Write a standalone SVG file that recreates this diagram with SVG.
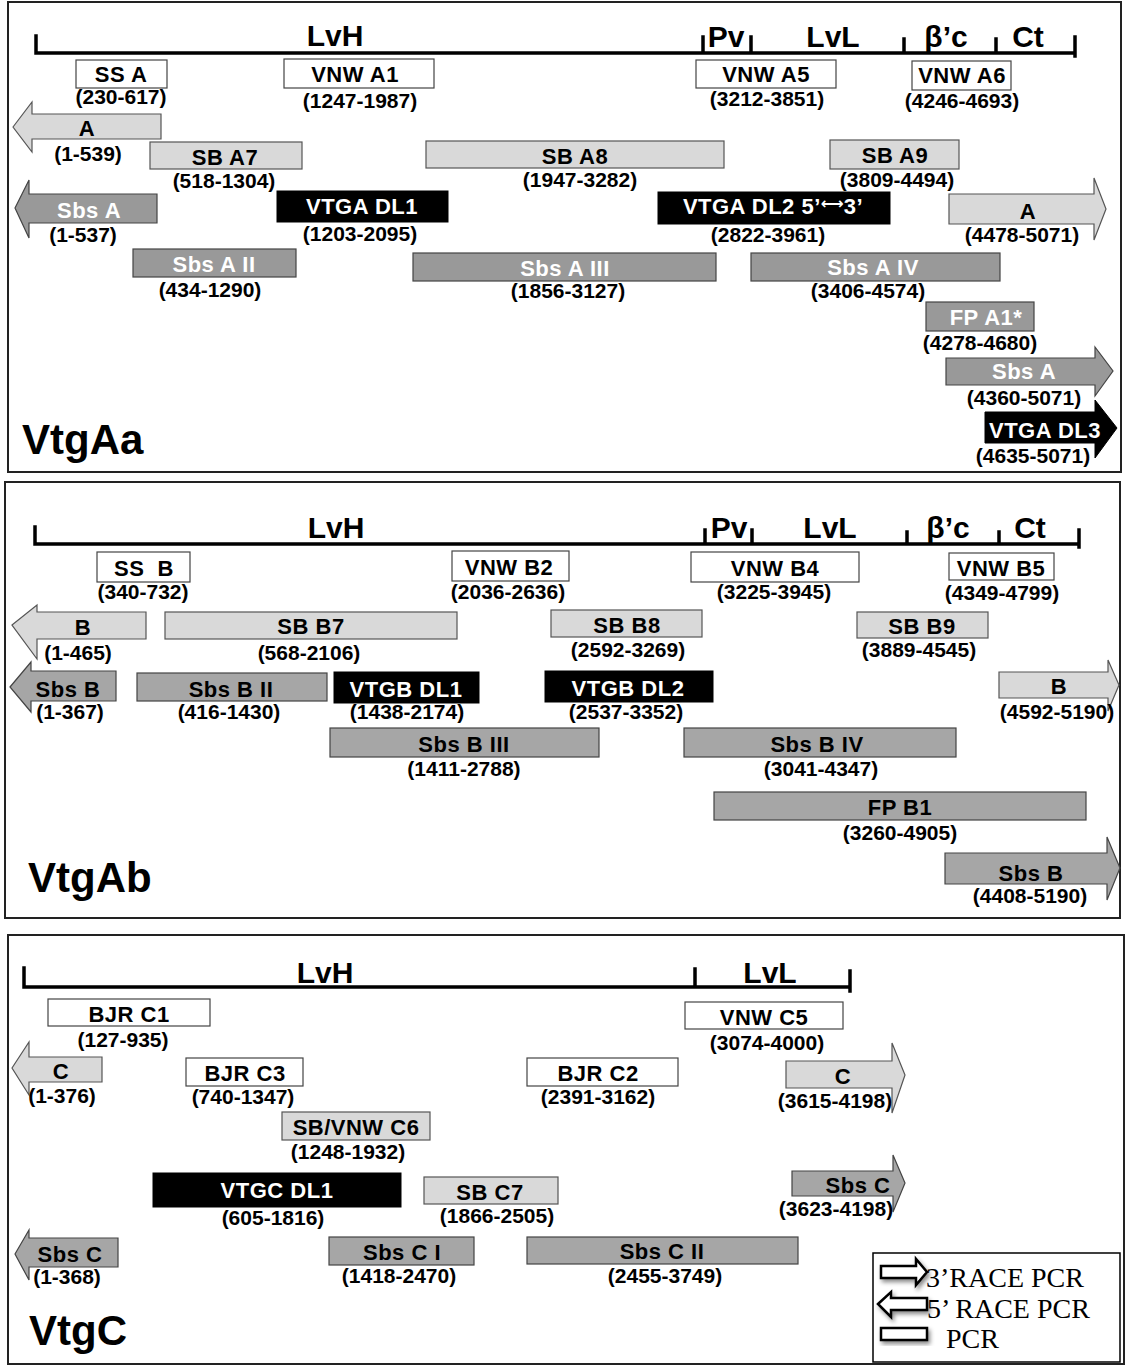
<svg xmlns="http://www.w3.org/2000/svg" width="1127" height="1367" viewBox="0 0 1127 1367">
<defs>
<style>
.frame{fill:#fff;stroke:#222;stroke-width:2}
.scale{stroke:#000;stroke-width:3.5;fill:none;stroke-linecap:square}
.pcr{fill:#fff;stroke:#444;stroke-width:1.2}
.lt{fill:#d9d9d9;stroke:#555;stroke-width:1.2}
.md{fill:#999;stroke:#444;stroke-width:1.2}
.md2{fill:#a6a6a6;stroke:#444;stroke-width:1.2}
.bk{fill:#000;stroke:#000;stroke-width:1}
.lbl{font-family:"Liberation Sans",Arial,Helvetica,sans-serif;font-weight:bold;font-size:22px;letter-spacing:0.5px;text-anchor:middle;fill:#000}
.rng{font-family:"Liberation Sans",Arial,Helvetica,sans-serif;font-weight:bold;font-size:21px;text-anchor:middle;fill:#000}
.w{fill:#fff}
.seg{font-family:"Liberation Sans",Arial,Helvetica,sans-serif;font-weight:bold;font-size:30px;text-anchor:middle;fill:#000}
.title{font-family:"Liberation Sans",Arial,Helvetica,sans-serif;font-weight:bold;font-size:42px;fill:#000}
.leg{font-family:"Liberation Serif","Times New Roman",serif;font-size:28px;fill:#000}
.legshape{fill:#fff;stroke:#000;stroke-width:2.5}
.arr{font-family:"DejaVu Sans",sans-serif;font-weight:bold;font-size:16px;letter-spacing:0}
</style>
<filter id="sh" x="-30%" y="-40%" width="170%" height="190%">
<feDropShadow dx="2" dy="3" stdDeviation="2" flood-color="#000" flood-opacity="0.45"/>
</filter>
</defs>

<!-- ================= Panel VtgAa ================= -->
<g id="panel-vtgaa">
<rect class="frame" x="8" y="2" width="1113" height="470"/>
<g id="scale-a">
<path class="scale" d="M36,36 V53 H1075 M703,37 V53 M751,37 V53 M904,39 V53 M996,39 V53 M1075,37 V56"/>
<text class="seg" x="335" y="46">LvH</text>
<text class="seg" x="726" y="47">Pv</text>
<text class="seg" x="833" y="47">LvL</text>
<text class="seg" x="946" y="47">β’c</text>
<text class="seg" x="1028" y="47">Ct</text>
</g>
<text class="title" x="22" y="454">VtgAa</text>
</g>

<g id="ssA"><rect class="pcr" x="76" y="60" width="91" height="28"/><text class="lbl" x="121" y="82">SS A</text><text class="rng" x="121" y="104">(230-617)</text></g>
<g id="vnwA1"><rect class="pcr" x="284" y="59" width="150" height="29"/><text class="lbl" x="355" y="82">VNW A1</text><text class="rng" x="360" y="108">(1247-1987)</text></g>
<g id="vnwA5"><rect class="pcr" x="696" y="60" width="140" height="28"/><text class="lbl" x="766" y="82">VNW A5</text><text class="rng" x="767" y="106">(3212-3851)</text></g>
<g id="vnwA6"><rect class="pcr" x="912" y="61" width="99" height="29"/><text class="lbl" x="962" y="83">VNW A6</text><text class="rng" x="962" y="108">(4246-4693)</text></g>

<g id="raceA5"><polygon class="lt" points="13,127 32,102 32,114 161,114 161,139 32,139 32,152"/><text class="lbl" x="87" y="136">A</text><text class="rng" x="88" y="161">(1-539)</text></g>
<g id="sbA7"><rect class="lt" x="150" y="142" width="152" height="27"/><text class="lbl" x="225" y="165">SB A7</text><text class="rng" x="224" y="188">(518-1304)</text></g>
<g id="sbA8"><rect class="lt" x="426" y="141" width="298" height="27"/><text class="lbl" x="575" y="164">SB A8</text><text class="rng" x="580" y="187">(1947-3282)</text></g>
<g id="sbA9"><rect class="lt" x="830" y="140" width="129" height="29"/><text class="lbl" x="895" y="163">SB A9</text><text class="rng" x="897" y="187">(3809-4494)</text></g>

<g id="sbsA5"><polygon class="md" points="15,208 29,180 29,194 157,194 157,223 29,223 29,238"/><text class="lbl w" x="89" y="218">Sbs A</text><text class="rng" x="83" y="242">(1-537)</text></g>
<g id="vtgaDL1"><rect class="bk" x="277" y="191" width="171" height="31"/><text class="lbl w" x="362" y="214">VTGA DL1</text><text class="rng" x="360" y="241">(1203-2095)</text></g>
<g id="vtgaDL2"><rect class="bk" x="658" y="192" width="232" height="32"/><text class="lbl w" x="773" y="214">VTGA DL2 5’<tspan class="arr" dy="-5">⟷</tspan><tspan dy="5">3’</tspan></text><text class="rng" x="768" y="242">(2822-3961)</text></g>
<g id="raceA3"><polygon class="lt" points="949,194 1094,194 1094,178 1106,209 1094,240 1094,224 949,224"/><text class="lbl" x="1028" y="219">A</text><text class="rng" x="1022" y="242">(4478-5071)</text></g>

<g id="sbsA2"><rect class="md" x="133" y="249" width="163" height="28"/><text class="lbl w" x="214" y="272">Sbs A II</text><text class="rng" x="210" y="297">(434-1290)</text></g>
<g id="sbsA3"><rect class="md" x="413" y="253" width="303" height="28"/><text class="lbl w" x="565" y="276">Sbs A III</text><text class="rng" x="568" y="298">(1856-3127)</text></g>
<g id="sbsA4"><rect class="md" x="751" y="253" width="249" height="28"/><text class="lbl w" x="873" y="275">Sbs A IV</text><text class="rng" x="868" y="298">(3406-4574)</text></g>
<g id="fpA1"><rect class="md" x="926" y="302" width="108" height="29"/><text class="lbl w" x="986" y="325">FP A1*</text><text class="rng" x="980" y="350">(4278-4680)</text></g>
<g id="sbsA3p"><polygon class="md" points="946,358 1095,358 1095,347 1113,371 1095,396 1095,385 946,385"/><text class="lbl w" x="1024" y="379">Sbs A</text><text class="rng" x="1024" y="405">(4360-5071)</text></g>
<g id="vtgaDL3"><polygon class="bk" points="985,412 1095,412 1095,400 1117,428 1095,458 1095,443 985,443"/><text class="lbl w" x="1045" y="438">VTGA DL3</text><text class="rng" x="1033" y="463">(4635-5071)</text></g>

<!-- ================= Panel VtgAb ================= -->
<g id="panel-vtgab">
<rect class="frame" x="5" y="482" width="1115" height="436"/>
<g id="scale-b">
<path class="scale" d="M35,527 V544 H1079 M705,530 V544 M752,530 V544 M907,532 V544 M999,532 V544 M1079,530 V547"/>
<text class="seg" x="336" y="538">LvH</text>
<text class="seg" x="729" y="538">Pv</text>
<text class="seg" x="830" y="538">LvL</text>
<text class="seg" x="948" y="538">β’c</text>
<text class="seg" x="1030" y="538">Ct</text>
</g>
<text class="title" x="28" y="892">VtgAb</text>
</g>

<g id="ssB"><rect class="pcr" x="97" y="552" width="93" height="30"/><text class="lbl" x="144" y="576" xml:space="preserve">SS  B</text><text class="rng" x="143" y="599">(340-732)</text></g>
<g id="vnwB2"><rect class="pcr" x="452" y="551" width="117" height="30"/><text class="lbl" x="509" y="575">VNW B2</text><text class="rng" x="508" y="599">(2036-2636)</text></g>
<g id="vnwB4"><rect class="pcr" x="691" y="552" width="168" height="30"/><text class="lbl" x="775" y="576">VNW B4</text><text class="rng" x="774" y="599">(3225-3945)</text></g>
<g id="vnwB5"><rect class="pcr" x="949" y="553" width="105" height="27"/><text class="lbl" x="1001" y="576">VNW B5</text><text class="rng" x="1002" y="600">(4349-4799)</text></g>

<g id="raceB5"><polygon class="lt" points="12,625 37,605 37,612 146,612 146,639 37,639 37,659"/><text class="lbl" x="83" y="635">B</text><text class="rng" x="78" y="660">(1-465)</text></g>
<g id="sbB7"><rect class="lt" x="165" y="612" width="292" height="27"/><text class="lbl" x="311" y="634">SB B7</text><text class="rng" x="309" y="660">(568-2106)</text></g>
<g id="sbB8"><rect class="lt" x="551" y="610" width="151" height="27"/><text class="lbl" x="627" y="633">SB B8</text><text class="rng" x="628" y="657">(2592-3269)</text></g>
<g id="sbB9"><rect class="lt" x="857" y="612" width="131" height="26"/><text class="lbl" x="922" y="634">SB B9</text><text class="rng" x="919" y="657">(3889-4545)</text></g>

<g id="sbsB5"><polygon class="md2" points="10,687 31,662 31,671 116,671 116,701 31,701 31,712"/><text class="lbl" x="68" y="697">Sbs B</text><text class="rng" x="70" y="719">(1-367)</text></g>
<g id="sbsB2"><rect class="md2" x="137" y="673" width="190" height="28"/><text class="lbl" x="231" y="697">Sbs B II</text><text class="rng" x="229" y="719">(416-1430)</text></g>
<g id="vtgbDL1"><rect class="bk" x="334" y="672" width="145" height="31"/><text class="lbl w" x="406" y="697">VTGB DL1</text><text class="rng" x="407" y="719">(1438-2174)</text></g>
<g id="vtgbDL2"><rect class="bk" x="545" y="671" width="168" height="31"/><text class="lbl w" x="628" y="696">VTGB DL2</text><text class="rng" x="626" y="719">(2537-3352)</text></g>
<g id="raceB3"><polygon class="lt" points="999,672 1108,672 1108,660 1119,685 1108,711 1108,698 999,698"/><text class="lbl" x="1059" y="694">B</text><text class="rng" x="1057" y="719">(4592-5190)</text></g>

<g id="sbsB3"><rect class="md2" x="330" y="728" width="269" height="29"/><text class="lbl" x="464" y="752">Sbs B III</text><text class="rng" x="464" y="776">(1411-2788)</text></g>
<g id="sbsB4"><rect class="md2" x="684" y="728" width="272" height="29"/><text class="lbl" x="817" y="752">Sbs B IV</text><text class="rng" x="821" y="776">(3041-4347)</text></g>
<g id="fpB1"><rect class="md2" x="714" y="792" width="372" height="28"/><text class="lbl" x="900" y="815">FP B1</text><text class="rng" x="900" y="840">(3260-4905)</text></g>
<g id="sbsB3p"><polygon class="md2" points="945,853 1107,853 1107,837 1120,868 1107,900 1107,884 945,884"/><text class="lbl" x="1031" y="881">Sbs B</text><text class="rng" x="1030" y="903">(4408-5190)</text></g>

<!-- ================= Panel VtgC ================= -->
<g id="panel-vtgc">
<rect class="frame" x="8" y="935" width="1116" height="429"/>
<g id="scale-c">
<path class="scale" d="M24,968 V987 H850 M695,969 V987 M850,971 V991"/>
<text class="seg" x="325" y="983">LvH</text>
<text class="seg" x="770" y="983">LvL</text>
</g>
<text class="title" x="29" y="1345">VtgC</text>
</g>

<g id="bjrC1"><rect class="pcr" x="48" y="999" width="162" height="27"/><text class="lbl" x="129" y="1022">BJR C1</text><text class="rng" x="123" y="1047">(127-935)</text></g>
<g id="vnwC5"><rect class="pcr" x="685" y="1002" width="158" height="27"/><text class="lbl" x="764" y="1025">VNW C5</text><text class="rng" x="767" y="1050">(3074-4000)</text></g>
<g id="raceC5"><polygon class="lt" points="12,1068 29,1042 29,1057 102,1057 102,1082 29,1082 29,1095"/><text class="lbl" x="61" y="1079">C</text><text class="rng" x="62" y="1103">(1-376)</text></g>
<g id="bjrC3"><rect class="pcr" x="186" y="1058" width="117" height="28"/><text class="lbl" x="245" y="1081">BJR C3</text><text class="rng" x="243" y="1104">(740-1347)</text></g>
<g id="bjrC2"><rect class="pcr" x="527" y="1058" width="151" height="28"/><text class="lbl" x="598" y="1081">BJR C2</text><text class="rng" x="598" y="1104">(2391-3162)</text></g>
<g id="raceC3"><polygon class="lt" points="786,1061 892,1061 892,1043 905,1075 892,1113 892,1088 786,1088"/><text class="lbl" x="843" y="1084">C</text><text class="rng" x="835" y="1108">(3615-4198)</text></g>
<g id="sbvnwC6"><rect class="lt" x="282" y="1112" width="148" height="28"/><text class="lbl" x="356" y="1135">SB/VNW C6</text><text class="rng" x="348" y="1159">(1248-1932)</text></g>
<g id="vtgcDL1"><rect class="bk" x="153" y="1173" width="248" height="34"/><text class="lbl w" x="277" y="1198">VTGC DL1</text><text class="rng" x="273" y="1225">(605-1816)</text></g>
<g id="sbC7"><rect class="lt" x="424" y="1177" width="134" height="27"/><text class="lbl" x="490" y="1200">SB C7</text><text class="rng" x="497" y="1223">(1866-2505)</text></g>
<g id="sbsC3"><polygon class="md2" points="792,1171 893,1171 893,1155 905,1183 893,1212 893,1196 792,1196"/><text class="lbl" x="858" y="1193">Sbs C</text><text class="rng" x="836" y="1216">(3623-4198)</text></g>
<g id="sbsC5"><polygon class="md2" points="15,1254 29,1230 29,1238 118,1238 118,1267 29,1267 29,1280"/><text class="lbl" x="70" y="1262">Sbs C</text><text class="rng" x="67" y="1284">(1-368)</text></g>
<g id="sbsC1"><rect class="md2" x="329" y="1237" width="145" height="28"/><text class="lbl" x="402" y="1260">Sbs C I</text><text class="rng" x="399" y="1283">(1418-2470)</text></g>
<g id="sbsC2"><rect class="md2" x="527" y="1237" width="271" height="27"/><text class="lbl" x="662" y="1259">Sbs C II</text><text class="rng" x="665" y="1283">(2455-3749)</text></g>

<g id="legend">
<rect x="873" y="1253" width="247" height="109" fill="#fff" stroke="#000" stroke-width="1.5"/>
<polygon class="legshape" filter="url(#sh)" points="881,1266 916,1266 916,1259 927,1272 916,1285 916,1278 881,1278"/>
<text class="leg" x="926" y="1287">3’RACE PCR</text>
<polygon class="legshape" filter="url(#sh)" points="878,1304 891,1292 891,1298 927,1298 927,1310 891,1310 891,1317"/>
<text class="leg" x="927" y="1318">5’ RACE PCR</text>
<rect class="legshape" filter="url(#sh)" x="881" y="1328" width="46" height="12"/>
<text class="leg" x="946" y="1348">PCR</text>
</g>
</svg>
